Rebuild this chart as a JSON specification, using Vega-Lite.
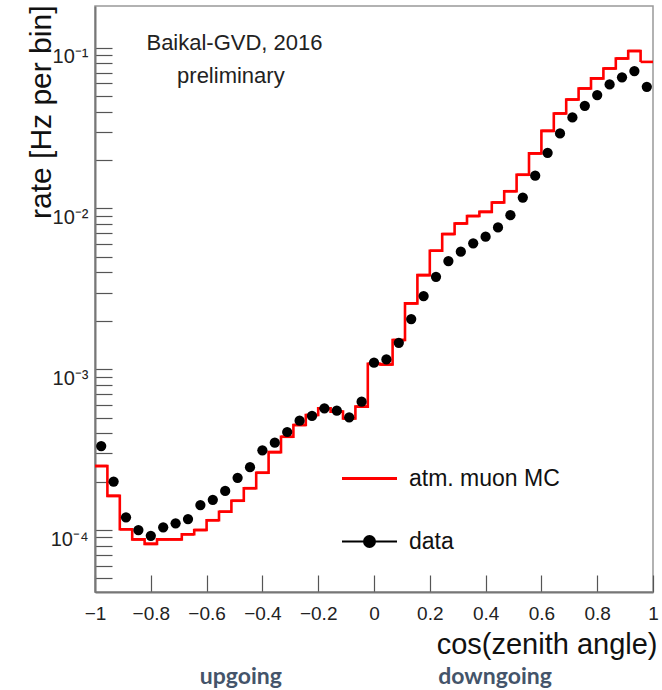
{
  "$schema": "https://vega.github.io/schema/vega-lite/v6.json",
  "width": 558,
  "height": 586,
  "autosize": {"type": "none"},
  "padding": {"left": 95, "top": 6, "right": 9, "bottom": 98},
  "background": "white",
  "config": {
    "view": {"stroke": "#999", "strokeWidth": 1.5},
    "font": "Liberation Sans",
    "axis": {"grid": false, "labelFont": "Liberation Sans", "labelColor": "#222", "titleColor": "#111", "titleFont": "Liberation Sans", "titleFontWeight": "normal", "domainColor": "#777", "domainWidth": 2, "tickColor": "#555", "tickWidth": 1.2, "labelOverlap": false, "labelBound": false, "labelFlush": false}
  },
  "datasets": {
    "bins": [
      {"lo": -1.0, "c": -0.97778, "hi": -0.95556, "data": 3.33e-4, "mc": 2.50e-4},
      {"lo": -0.95556, "c": -0.93333, "hi": -0.91111, "data": 2.00e-4, "mc": 1.63e-4},
      {"lo": -0.91111, "c": -0.88889, "hi": -0.86667, "data": 1.20e-4, "mc": 1.01e-4},
      {"lo": -0.86667, "c": -0.84444, "hi": -0.82222, "data": 1.00e-4, "mc": 8.75e-5},
      {"lo": -0.82222, "c": -0.8, "hi": -0.77778, "data": 9.2e-5, "mc": 8.2e-5},
      {"lo": -0.77778, "c": -0.75556, "hi": -0.73333, "data": 1.04e-4, "mc": 8.75e-5},
      {"lo": -0.73333, "c": -0.71111, "hi": -0.68889, "data": 1.10e-4, "mc": 8.75e-5},
      {"lo": -0.68889, "c": -0.66667, "hi": -0.64444, "data": 1.17e-4, "mc": 9.4e-5},
      {"lo": -0.64444, "c": -0.62222, "hi": -0.6, "data": 1.43e-4, "mc": 1.0e-4},
      {"lo": -0.6, "c": -0.57778, "hi": -0.55556, "data": 1.54e-4, "mc": 1.15e-4},
      {"lo": -0.55556, "c": -0.53333, "hi": -0.51111, "data": 1.75e-4, "mc": 1.30e-4},
      {"lo": -0.51111, "c": -0.48889, "hi": -0.46667, "data": 2.11e-4, "mc": 1.52e-4},
      {"lo": -0.46667, "c": -0.44444, "hi": -0.42222, "data": 2.46e-4, "mc": 1.82e-4},
      {"lo": -0.42222, "c": -0.4, "hi": -0.37778, "data": 3.13e-4, "mc": 2.27e-4},
      {"lo": -0.37778, "c": -0.35556, "hi": -0.33333, "data": 3.49e-4, "mc": 3.05e-4},
      {"lo": -0.33333, "c": -0.31111, "hi": -0.28889, "data": 4.07e-4, "mc": 3.80e-4},
      {"lo": -0.28889, "c": -0.26667, "hi": -0.24444, "data": 4.79e-4, "mc": 4.50e-4},
      {"lo": -0.24444, "c": -0.22222, "hi": -0.2, "data": 5.12e-4, "mc": 5.19e-4},
      {"lo": -0.2, "c": -0.17778, "hi": -0.15556, "data": 5.71e-4, "mc": 5.71e-4},
      {"lo": -0.15556, "c": -0.13333, "hi": -0.11111, "data": 5.52e-4, "mc": 5.45e-4},
      {"lo": -0.11111, "c": -0.08889, "hi": -0.06667, "data": 5.02e-4, "mc": 4.95e-4},
      {"lo": -0.06667, "c": -0.04444, "hi": -0.02222, "data": 6.28e-4, "mc": 5.85e-4},
      {"lo": -0.02222, "c": 0.0, "hi": 0.02222, "data": 1.10e-3, "mc": 1.08e-3},
      {"lo": 0.02222, "c": 0.04444, "hi": 0.06667, "data": 1.15e-3, "mc": 1.07e-3},
      {"lo": 0.06667, "c": 0.08889, "hi": 0.11111, "data": 1.46e-3, "mc": 1.52e-3},
      {"lo": 0.11111, "c": 0.13333, "hi": 0.15556, "data": 2.05e-3, "mc": 2.57e-3},
      {"lo": 0.15556, "c": 0.17778, "hi": 0.2, "data": 2.85e-3, "mc": 3.85e-3},
      {"lo": 0.2, "c": 0.22222, "hi": 0.24444, "data": 3.76e-3, "mc": 5.46e-3},
      {"lo": 0.24444, "c": 0.26667, "hi": 0.28889, "data": 4.71e-3, "mc": 6.93e-3},
      {"lo": 0.28889, "c": 0.31111, "hi": 0.33333, "data": 5.38e-3, "mc": 8.07e-3},
      {"lo": 0.33333, "c": 0.35556, "hi": 0.37778, "data": 6.07e-3, "mc": 8.97e-3},
      {"lo": 0.37778, "c": 0.4, "hi": 0.42222, "data": 6.67e-3, "mc": 9.53e-3},
      {"lo": 0.42222, "c": 0.44444, "hi": 0.46667, "data": 7.62e-3, "mc": 1.09e-2},
      {"lo": 0.46667, "c": 0.48889, "hi": 0.51111, "data": 9.09e-3, "mc": 1.28e-2},
      {"lo": 0.51111, "c": 0.53333, "hi": 0.55556, "data": 1.17e-2, "mc": 1.62e-2},
      {"lo": 0.55556, "c": 0.57778, "hi": 0.6, "data": 1.60e-2, "mc": 2.20e-2},
      {"lo": 0.6, "c": 0.62222, "hi": 0.64444, "data": 2.22e-2, "mc": 3.04e-2},
      {"lo": 0.64444, "c": 0.66667, "hi": 0.68889, "data": 2.93e-2, "mc": 3.90e-2},
      {"lo": 0.68889, "c": 0.71111, "hi": 0.73333, "data": 3.68e-2, "mc": 4.76e-2},
      {"lo": 0.73333, "c": 0.75556, "hi": 0.77778, "data": 4.35e-2, "mc": 5.58e-2},
      {"lo": 0.77778, "c": 0.8, "hi": 0.82222, "data": 5.07e-2, "mc": 6.44e-2},
      {"lo": 0.82222, "c": 0.84444, "hi": 0.86667, "data": 5.91e-2, "mc": 7.43e-2},
      {"lo": 0.86667, "c": 0.88889, "hi": 0.91111, "data": 6.54e-2, "mc": 8.57e-2},
      {"lo": 0.91111, "c": 0.93333, "hi": 0.95556, "data": 7.16e-2, "mc": 9.54e-2},
      {"lo": 0.95556, "c": 0.97778, "hi": 1.0, "data": 5.71e-2, "mc": 8.16e-2}
    ],
    "notes": [
      {"c": -0.5, "r": 0.0968, "text": "Baikal-GVD, 2016"},
      {"c": -0.513, "r": 0.0603, "text": "preliminary"}
    ],
    "dirs": [
      {"c": -0.477, "r": 1.1016e-5, "text": "upgoing"},
      {"c": 0.434, "r": 1.1016e-5, "text": "downgoing"}
    ]
  },
  "layer": [
    {
      "data": {"name": "bins"},
      "mark": {"type": "line", "interpolate": "step-after", "strokeWidth": 2.6, "clip": true},
      "encoding": {
        "x": {
          "field": "lo", "type": "quantitative",
          "scale": {"domain": [-1, 1], "nice": false, "zero": false},
          "axis": {
            "title": "cos(zenith angle)",
            "titleFontSize": 29,
            "titleAlign": "right",
            "titleAnchor": "end",
            "titleBaseline": "alphabetic",
            "titleX": 562,
            "titleY": 61,
            "values": [-1, -0.95, -0.9, -0.85, -0.8, -0.75, -0.7, -0.65, -0.6, -0.55, -0.5, -0.45, -0.4, -0.35, -0.3, -0.25, -0.2, -0.15, -0.1, -0.05, 0, 0.05, 0.1, 0.15, 0.2, 0.25, 0.3, 0.35, 0.4, 0.45, 0.5, 0.55, 0.6, 0.65, 0.7, 0.75, 0.8, 0.85, 0.9, 0.95, 1],
            "labelExpr": "abs(datum.value*5 - round(datum.value*5)) < 0.001 ? format(datum.value, '~g') : ''",
            "labelFontSize": 19,
            "labelBaseline": "top",
            "labelPadding": 29,
            "tickSize": -17,
            "encode": {"ticks": {"update": {"y2": {"signal": "abs(datum.value*5 - round(datum.value*5)) < 0.001 ? -17 : -8"}}}}
          }
        },
        "y": {
          "field": "mc", "type": "quantitative",
          "scale": {"type": "log", "domain": [4.115e-5, 0.1817], "nice": false},
          "axis": {
            "title": "rate [Hz per bin]",
            "titleFontSize": 30,
            "titleAlign": "right",
            "titleAnchor": "end",
            "titleBaseline": "alphabetic",
            "titleAngle": 270,
            "titleX": -45,
            "titleY": -1,
            "values": [5e-5, 6e-5, 7e-5, 8e-5, 9e-5, 1e-4, 2e-4, 3e-4, 4e-4, 5e-4, 6e-4, 7e-4, 8e-4, 9e-4, 1e-3, 2e-3, 3e-3, 4e-3, 5e-3, 6e-3, 7e-3, 8e-3, 9e-3, 1e-2, 2e-2, 3e-2, 4e-2, 5e-2, 6e-2, 7e-2, 8e-2, 9e-2, 1e-1],
            "labelExpr": "abs(log(datum.value)/LN10 - round(log(datum.value)/LN10)) < 0.01 ? '10' + ['⁰','⁻¹','⁻²','⁻³','⁻⁴','⁻⁵'][-round(log(datum.value)/LN10)] : ''",
            "labelFontSize": 20,
            "labelBaseline": "middle",
            "labelOffset": 9,
            "labelPadding": 24,
            "tickSize": -17,
            "encode": {"ticks": {"update": {"x2": {"signal": "abs(log(datum.value)/LN10 - round(log(datum.value)/LN10)) < 0.01 ? 17 : 8"}}}}
          }
        },
        "color": {
          "datum": "atm. muon MC",
          "type": "nominal",
          "scale": {"domain": ["atm. muon MC", "data"], "range": ["#ff0000", "#000000"]},
          "legend": {
            "title": null,
            "orient": "none",
            "legendX": 263,
            "legendY": 461,
            "symbolType": "stroke",
            "symbolSize": 3025,
            "symbolStrokeWidth": 3,
            "labelFont": "Liberation Sans",
            "labelFontSize": 23,
            "labelColor": "#111",
            "labelOffset": 28,
            "rowPadding": 39,
            "padding": 0,
            "encode": {
              "symbols": {
                "update": {
                  "shape": {"signal": "datum.value === 'data' ? 'M-1,0L1,0M-0.2,0A0.2,0.2,0,1,0,0.2,0A0.2,0.2,0,1,0,-0.2,0Z' : 'stroke'"},
                  "fill": {"signal": "datum.value === 'data' ? '#000000' : 'transparent'"},
                  "stroke": {"signal": "datum.value === 'data' ? '#000000' : '#ff0000'"},
                  "strokeWidth": {"signal": "datum.value === 'data' ? 2 : 3"},
                  "opacity": {"value": 1}
                }
              }
            }
          }
        }
      }
    },
    {
      "data": {"name": "bins"},
      "mark": {"type": "rule", "color": "#ff0000", "strokeWidth": 2.6},
      "encoding": {
        "x": {"field": "lo", "type": "quantitative"},
        "x2": {"field": "hi"},
        "y": {"field": "mc", "type": "quantitative"}
      }
    },
    {
      "data": {"name": "bins"},
      "mark": {"type": "point", "filled": true, "size": 105, "opacity": 1},
      "encoding": {
        "x": {"field": "c", "type": "quantitative"},
        "y": {"field": "data", "type": "quantitative"},
        "color": {"datum": "data", "type": "nominal"}
      }
    },
    {
      "data": {"name": "notes"},
      "mark": {"type": "text", "font": "Liberation Sans", "fontSize": 22, "color": "#222", "align": "center", "baseline": "alphabetic"},
      "encoding": {
        "x": {"field": "c", "type": "quantitative"},
        "y": {"field": "r", "type": "quantitative"},
        "text": {"field": "text"}
      }
    },
    {
      "data": {"name": "dirs"},
      "mark": {"type": "text", "font": "Lato", "fontWeight": "bold", "fontSize": 23, "color": "#44546a", "align": "center", "baseline": "alphabetic"},
      "encoding": {
        "x": {"field": "c", "type": "quantitative"},
        "y": {"field": "r", "type": "quantitative"},
        "text": {"field": "text"}
      }
    }
  ]
}
